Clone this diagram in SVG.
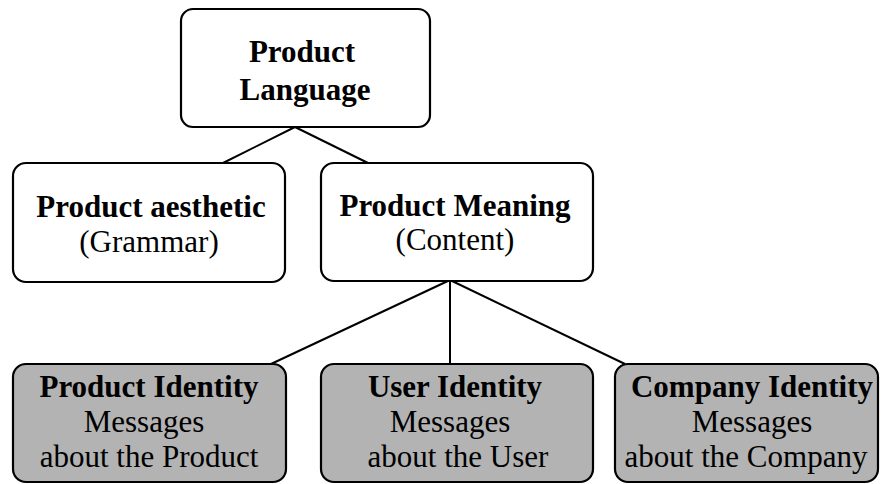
<svg xmlns="http://www.w3.org/2000/svg" width="881" height="484" viewBox="0 0 881 484">
<style>
.box{fill:#fff;stroke:#000;stroke-width:2.2}
.grey{fill:#b3b3b3;stroke:#000;stroke-width:2.2}
.b{font-family:"Liberation Serif","Times New Roman",serif;font-weight:bold;font-size:31px;text-anchor:middle;fill:#000}
.r{font-family:"Liberation Serif","Times New Roman",serif;font-size:31px;text-anchor:middle;fill:#000}
.c{stroke:#000;stroke-width:2;fill:none}
</style>
<rect width="881" height="484" fill="#fff"/>
<g id="connectors">
<line class="c" x1="295" y1="127" x2="223" y2="163"/>
<line class="c" x1="295" y1="127" x2="368" y2="163"/>
<line class="c" x1="450" y1="280" x2="271" y2="364"/>
<line class="c" x1="450" y1="280" x2="450" y2="364"/>
<line class="c" x1="450" y1="280" x2="625" y2="364"/>
</g>
<g id="product-language">
<rect class="box" x="181" y="9" width="249" height="118" rx="12"/>
<text class="b" x="302" y="62">Product</text>
<text class="b" x="305" y="100">Language</text>
</g>
<g id="product-aesthetic">
<rect class="box" x="13" y="163" width="272" height="119" rx="13"/>
<text class="b" x="151" y="217">Product aesthetic</text>
<text class="r" x="149" y="252">(Grammar)</text>
</g>
<g id="product-meaning">
<rect class="box" x="321" y="163" width="272" height="118" rx="13"/>
<text class="b" x="455" y="216">Product Meaning</text>
<text class="r" x="455" y="250">(Content)</text>
</g>
<g id="product-identity">
<rect class="grey" x="13" y="364" width="273" height="118" rx="13"/>
<text class="b" x="149" y="397">Product Identity</text>
<text class="r" x="144" y="432">Messages</text>
<text class="r" x="149" y="467">about the Product</text>
</g>
<g id="user-identity">
<rect class="grey" x="321" y="364" width="272" height="118" rx="13"/>
<text class="b" x="455" y="397">User Identity</text>
<text class="r" x="450" y="432">Messages</text>
<text class="r" x="458" y="467">about the User</text>
</g>
<g id="company-identity">
<rect class="grey" x="615" y="364" width="263" height="118" rx="13"/>
<text class="b" x="752" y="397">Company Identity</text>
<text class="r" x="752" y="432">Messages</text>
<text class="r" x="746" y="467">about the Company</text>
</g>
</svg>
